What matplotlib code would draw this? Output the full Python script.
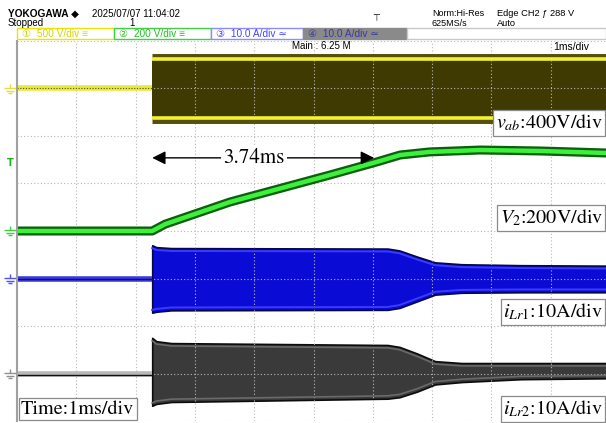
import numpy as np
import matplotlib
matplotlib.use("Agg")
import matplotlib.pyplot as plt
from matplotlib.path import Path
from matplotlib.patches import Rectangle

plt.rcParams['mathtext.fontset'] = 'stix'

# ---- scope settings ----
t_start = 2.28            # ms, converter start (trigger)
trig_level = 288          # V on CH2
t_rise = 3.74             # ms, measured V2 rise time

# channel offsets (div) and scales (unit/div)
ch_offset = [3, 0, -1, -3]
ch_scale = [500, 200, 10, 10]

# pre-start flat traces
t_pre = [0, t_start]
v_pre = [0, 0]

# CH1 v_ab envelope (V)
t_vab = [t_start, 10.0]
vab_upper = [330, 330]
vab_lower = [-330, -330]

# CH2 V2 (V)
t_v2 = [0, 2.28, 2.50, 3.59, 5.28, 6.07, 6.46, 6.96, 7.81, 8.82, 10.0]
v2 = [0, 0, 29, 122, 236, 291, 320, 333, 341, 337, 328]

# CH3 i_Lr1 envelope (A)
t_env = [2.28, 2.35, 2.60, 6.25, 6.45, 6.75, 7.05, 7.50, 8.50, 10.0]
ilr1_upper = [7.0, 6.6, 6.4, 6.3, 5.9, 4.6, 3.4, 3.0, 2.8, 2.7]
ilr1_lower = [-7.2, -7.0, -6.7, -6.6, -6.2, -4.8, -3.4, -3.0, -2.9, -2.9]

# CH4 i_Lr2 envelope (A)
ilr2_upper = [7.5, 6.8, 6.4, 6.0, 5.6, 4.2, 2.6, 2.2, 2.2, 2.2]
ilr2_lower = [-6.8, -6.4, -6.0, -5.3, -5.0, -3.8, -2.3, -1.8, -1.2, -1.0]

labels = [r'$v_{ab}$:400V/div', r'$V_2$:200V/div',
          r'$i_{Lr1}$:10A/div', r'$i_{Lr2}$:10A/div']


def div(ch, vals):
    return ch_offset[ch] + np.asarray(vals, dtype=float) / ch_scale[ch]


W, H = 606, 423
fig = plt.figure(figsize=(W / 100, H / 100), dpi=100)


def px(x, y):
    return x / W, 1 - y / H


ax = fig.add_axes([17 / W, 2 / H, 593 / W, 380 / H])
ax.set_xlim(0, 10)
ax.set_ylim(-4, 4)
ax.set_xticks(range(11))
ax.set_yticks(range(-4, 5))
ax.tick_params(length=0, labelbottom=False, labelleft=False)
ax.grid(True, color='#b8b8b8', linestyle=(0, (1, 2)), linewidth=0.8)
for s in ['top', 'right', 'bottom']:
    ax.spines[s].set_visible(False)
ax.spines['left'].set_color('#a0a0a0')
ax.spines['left'].set_linewidth(1.5)

# CH1 v_ab
ax.plot(t_pre, div(0, v_pre), color='#e8e840', lw=4, solid_capstyle='butt')
ax.plot(t_pre, div(0, v_pre), color='#55550a', lw=0.8, ls=(0, (1, 1.5)))
ax.fill_between(t_vab, div(0, vab_lower), div(0, vab_upper),
                color='#3f3a02', lw=0)
for edge, sgn in ((vab_upper, -1), (vab_lower, 1)):
    ax.plot(t_vab, div(0, edge), color='#55500a', lw=5, solid_capstyle='butt')
    ax.plot(t_vab, div(0, edge) + sgn * 0.03, color='#f2f230', lw=2.6,
            solid_capstyle='butt')

# CH2 V2
ax.plot(t_v2, div(1, v2), color='#0d5e0d', lw=6.5, solid_joinstyle='round')
ax.plot(t_v2, div(1, v2), color='#3cf03c', lw=3.2, solid_joinstyle='round')

# CH3 i_Lr1
ax.plot(t_pre, div(2, v_pre), color='#3a3ae0', lw=4, solid_capstyle='butt')
ax.plot(t_pre, div(2, v_pre), color='#10106a', lw=1)
ax.fill_between(t_env, div(2, ilr1_lower), div(2, ilr1_upper),
                facecolor='#0b0bd6', edgecolor='#06064a', lw=1.2)
ax.plot(t_env, div(2, ilr1_upper) - 0.06, color='#3b3bff', lw=1.4)
ax.plot(t_env, div(2, ilr1_lower) + 0.06, color='#3b3bff', lw=1.4)

# CH4 i_Lr2
ax.plot(t_pre, div(3, v_pre), color='#b8b8b8', lw=4, solid_capstyle='butt')
ax.plot(t_pre, div(3, v_pre) - 0.04, color='#111111', lw=1)
ax.fill_between(t_env, div(3, ilr2_lower), div(3, ilr2_upper),
                facecolor='#3a3a3a', edgecolor='#0c0c0c', lw=1.2)
ax.plot(t_env, div(3, ilr2_upper) - 0.06, color='#6a6a6a', lw=1.2)
ax.plot(t_env, div(3, ilr2_lower) + 0.06, color='#6a6a6a', lw=1.2)

# ground markers at the left of the screen
gnd = Path([(-1, 0.3), (1, 0.3), (-0.6, -0.1), (0.6, -0.1),
            (-0.25, -0.5), (0.25, -0.5), (0, 0.3), (0, 1)],
           [Path.MOVETO, Path.LINETO] * 4)
gnd_colors = ['#e0e040', '#40d040', '#5050ff', '#909090']
for ch, c in enumerate(gnd_colors):
    ax.plot([-0.11], [ch_offset[ch] - 0.03], marker=gnd, ms=9, color=c,
            mew=1, clip_on=False, ls='none')
ax.text(-0.11, div(1, [trig_level])[0], 'T', color='#20b020', fontsize=7,
        fontweight='bold', ha='center', va='center', clip_on=False)

# rise time marker
y_arrow = 1.54
ax.annotate('', xy=(t_start, y_arrow), xytext=(t_start + t_rise, y_arrow),
            arrowprops=dict(arrowstyle='<|-|>', color='black', lw=1,
                            mutation_scale=20, shrinkA=0, shrinkB=0))
ax.text(t_start + 1.72, y_arrow, '%.2fms' % t_rise, family='STIXGeneral',
        fontsize=15, ha='center', va='center',
        bbox=dict(boxstyle='square,pad=0.12', fc='white', ec='none'))

# channel labels
box = dict(boxstyle='square,pad=0.12', fc='white', ec='#8a8a8a', lw=0.9)
for lab, yy in zip(labels, [123, 218, 312, 409]):
    fig.text(*px(603, yy), lab, family='STIXGeneral', fontsize=14.5,
             ha='right', va='center', bbox=box)
fig.text(*px(21, 409), 'Time:1ms/div', family='STIXGeneral', fontsize=14.5,
         ha='left', va='center', bbox=box)

# header
hdr = ['Liberation Sans', 'DejaVu Sans']
fig.text(*px(8, 14), 'YOKOGAWA \u25c6', family=hdr, fontsize=7.3,
         fontweight='bold', va='center')
fig.text(*px(92, 14), '2025/07/07 11:04:02', family=hdr, fontsize=7,
         va='center')
fig.text(*px(8, 23), 'Stopped', family=hdr, fontsize=7, va='center')
fig.text(*px(129, 23), '1', family=hdr, fontsize=7, va='center')
fig.text(*px(372, 19), '\u22a4', family=hdr, fontsize=6.5, va='center')
fig.text(*px(432, 13), 'Norm:Hi-Res', family=hdr, fontsize=6.5, va='center')
fig.text(*px(432, 23), '625MS/s', family=hdr, fontsize=6.5, va='center')
fig.text(*px(497, 13), 'Edge CH2 \u0192 288 V', family=hdr, fontsize=6.7,
         va='center')
fig.text(*px(497, 23), 'Auto', family=hdr, fontsize=6.7, va='center')

# channel strip
strip = [(17, 114, 'white', '#e6e600', '\u2460  500 V/div \u2261', '#d4d400'),
         (114, 211, 'white', '#40d040', '\u2461  200 V/div \u2261', '#20c020'),
         (211, 303, 'white', '#8c8cff', '\u2462  10.0 A/div \u2243', '#4444ff'),
         (303, 407, '#8a8a8a', '#8a8a8a', '\u2463  10.0 A/div \u2243', '#3a3aa0'),
         (407, 606, 'white', '#c8c8c8', '', 'k')]
for x0, x1, fc, ec, txt, tc in strip:
    fig.patches.append(Rectangle(px(x0, 39), (x1 - x0) / W, 11 / H, fc=fc,
                                 ec=ec, lw=1, transform=fig.transFigure))
    if txt:
        fig.text(*px(x0 + 5, 33.5), txt, family=hdr, fontsize=7.3, color=tc,
                 va='center')

fig.text(*px(292, 46), 'Main : 6.25 M', family=hdr, fontsize=7, va='center')
fig.text(*px(553, 47), '1ms/div', family=hdr, fontsize=7.5, va='center')

fig.savefig('out.png', dpi=100)
